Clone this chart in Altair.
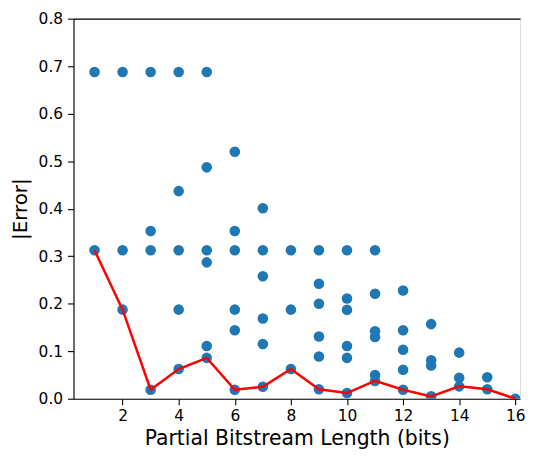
import altair as alt
import pandas as pd

# Scatter values: bitstream length -> list of |Error| values
lengths = list(range(1, 17))
errors_by_length = [
    [0.6875, 0.3125],
    [0.6875, 0.3125, 0.1875],
    [0.6875, 0.353, 0.3125, 0.019],
    [0.6875, 0.437, 0.3125, 0.1875, 0.0625],
    [0.6875, 0.487, 0.3125, 0.287, 0.111, 0.086],
    [0.52, 0.353, 0.3125, 0.1875, 0.144, 0.019],
    [0.401, 0.3125, 0.258, 0.169, 0.115, 0.025],
    [0.3125, 0.1875, 0.0625],
    [0.3125, 0.242, 0.2, 0.131, 0.089, 0.02],
    [0.3125, 0.211, 0.187, 0.111, 0.086, 0.012],
    [0.3125, 0.221, 0.142, 0.13, 0.05, 0.0375],
    [0.228, 0.144, 0.103, 0.061, 0.019],
    [0.157, 0.081, 0.07, 0.005],
    [0.097, 0.044, 0.026],
    [0.045, 0.02],
    [0.0],
]
# Red line: minimum error per length
min_errors = [0.3125, 0.1875, 0.019, 0.0625, 0.086, 0.019, 0.025, 0.0625,
              0.02, 0.012, 0.0375, 0.019, 0.005, 0.026, 0.02, 0.0]

x_ticks = [2, 4, 6, 8, 10, 12, 14, 16]
y_ticks = [0.0, 0.1, 0.2, 0.3, 0.4, 0.5, 0.6, 0.7, 0.8]

scatter_df = pd.DataFrame(
    [(l, e) for l, errs in zip(lengths, errors_by_length) for e in errs],
    columns=["length", "error"],
)
line_df = pd.DataFrame({"length": lengths, "error": min_errors})

FONT = "DejaVu Sans"
x_scale = alt.Scale(domain=[0.25, 16.17], nice=False, zero=False)
y_scale = alt.Scale(domain=[0, 0.8], nice=False)

x_axis = alt.Axis(
    title="Partial Bitstream Length (bits)", values=x_ticks, format="d",
    grid=False, domainColor="black", tickColor="black", tickSize=6,
    labelPadding=4, labelFontSize=15.5, titleFontSize=20.5, titlePadding=5,
    labelColor="black", titleColor="black", titleFontWeight="normal",
    labelFont=FONT, titleFont=FONT, domainWidth=1.1, tickWidth=1.1,
)
y_axis = alt.Axis(
    title="|Error|", values=y_ticks, format=".1f",
    grid=False, domainColor="black", tickColor="black", tickSize=6,
    labelPadding=5, labelFontSize=15.5, titleFontSize=20, titlePadding=8,
    labelColor="black", titleColor="black", titleFontWeight="normal",
    labelFont=FONT, titleFont=FONT, domainWidth=1.1, tickWidth=1.1,
)
top_axis = alt.Axis(
    orient="top", title=None, labels=False, ticks=False, grid=False,
    domainColor="black", domainWidth=1.1,
)

points = alt.Chart(scatter_df).mark_circle(
    size=113, color="#1f77b4", opacity=1, clip=True
).encode(
    x=alt.X("length:Q", scale=x_scale, axis=x_axis),
    y=alt.Y("error:Q", scale=y_scale, axis=y_axis),
)

line = alt.Chart(line_df).mark_line(
    color="red", strokeWidth=2.5, clip=True
).encode(
    x=alt.X("length:Q", scale=x_scale, axis=top_axis),
    y=alt.Y("error:Q", scale=y_scale),
)

chart = alt.layer(points, line).resolve_axis(x="independent").properties(
    width=450, height=383,
    autosize=alt.AutoSizeParams(type="none"),
    padding={"left": 66, "top": 9, "right": 8, "bottom": 58},
).configure_view(stroke=None).configure(background="white")

chart.save("out.html", embed_options={"renderer": "svg", "actions": False})
